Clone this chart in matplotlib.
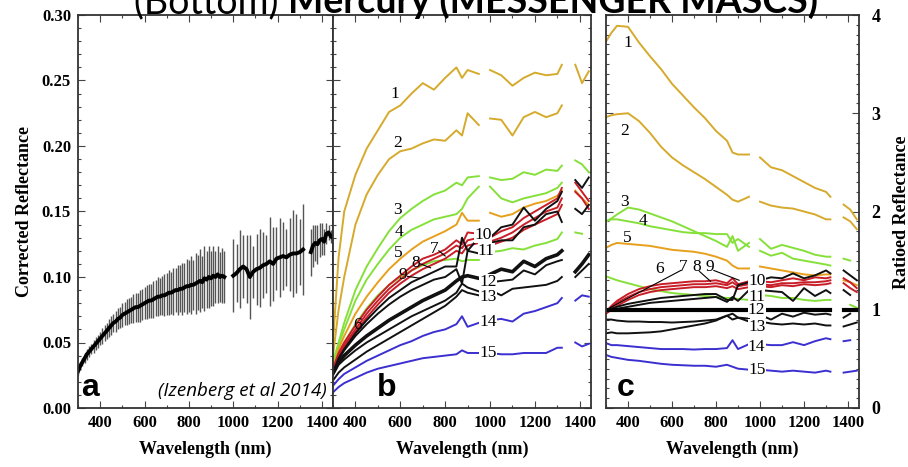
import numpy as np
import matplotlib
matplotlib.use('Agg')
import matplotlib.pyplot as plt
from matplotlib.ticker import MultipleLocator, FormatStrFormatter

serif = 'Liberation Serif'
plt.rcParams['font.family'] = serif
plt.rcParams['font.weight'] = 'bold'
plt.rcParams['axes.labelweight'] = 'bold'

# ---- panel a: mean corrected reflectance with error bars (Izenberg et al 2014)
a_wl_vis = list(range(300, 961, 10))
a_ref_vis = [.028, .032, .035, .038, .041, .043, .045, .047, .049, .051,
             .053, .055, .057, .059, .061, .063, .065, .066, .068, .069,
             .071, .072, .073, .074, .075, .076, .077, .077, .078, .079,
             .080, .081, .082, .082, .083, .084, .085, .085, .086, .086,
             .087, .088, .088, .089, .090, .090, .091, .091, .092, .093,
             .093, .094, .094, .095, .096, .097, .096, .099, .098, .100,
             .099, .101, .100, .102, .100, .101, .100]
a_err_vis = [.003, .003, .003, .004, .004, .004, .004, .005, .005, .005,
             .005, .006, .006, .006, .007, .007, .007, .008, .008, .008,
             .009, .009, .010, .010, .010, .011, .011, .011, .012, .012,
             .012, .013, .013, .013, .014, .014, .015, .014, .015, .016,
             .016, .017, .016, .018, .017, .019, .018, .020, .019, .021,
             .020, .022, .019, .023, .021, .024, .020, .025, .022, .024,
             .021, .023, .020, .022, .019, .021, .020]
a_wl_nir = list(range(1000, 1316, 15))
a_ref_nir = [.101, .103, .106, .108, .106, .100, .104, .106, .107, .109, .110,
             .112, .110, .114, .115, .116, .115, .117, .118, .118, .119, .121]
a_err_nir = [.028, .022, .030, .024, .026, .032, .020, .027, .030, .025, .022,
             .034, .028, .024, .030, .026, .022, .028, .033, .030, .025, .035]
a_wl_tail = list(range(1350, 1451, 10))
a_ref_tail = [.119, .124, .126, .125, .128, .129, .127, .133, .134, .131, .130]
a_err_tail = [.018, .016, .014, .015, .013, .012, .010, .008, .006, .005, .004]

# ---- panels b and c: 16 spectra on a common wavelength grid (VIS / NIR / tail)
wl_vis = [300, 325, 350, 400, 450, 500, 550, 600, 650, 700, 750, 800, 850, 875, 900, 950]
wl_nir = [1000, 1050, 1100, 1150, 1200, 1250, 1300, 1320]
wl_tail = [1380, 1410, 1440]
nan = np.nan

spec_names = ['1', '2', '3', '4', '5', '6g', '7', '8', '9', '10', '11', '12', '13', '13b', '14', '15']
spec_colors = ['gold', 'gold', 'green', 'green', 'orange', 'green', 'red', 'red', 'red',
               'black', 'black', 'black', 'black', 'black', 'blue', 'blue']

# corrected reflectance (panel b)
b_vis = [
    [.050, .115, .150, .178, .198, .212, .226, .231, .240, .248, .243, .252, .260, .252, .258, .255],
    [.040, .075, .100, .140, .163, .178, .190, .196, .198, .202, .205, .204, .212, .208, .225, .216],
    [.035, .050, .065, .090, .108, .122, .135, .145, .152, .158, .163, .166, .172, .170, .176, .177],
    [.035, .048, .060, .082, .098, .110, .121, .130, .136, .140, .144, .146, .148, .152, .160, .169],
    [.030, .045, .055, .072, .085, .096, .106, .114, .121, .127, .131, .135, .140, .149, .143, .143],
    [.030, .042, .050, .064, .076, .086, .094, .100, .105, .109, .112, .113, .114, .112, .113, .113],
    [.030, .042, .050, .063, .075, .085, .094, .101, .108, .114, .117, .121, .128, .125, .134, .133],
    [.028, .040, .048, .060, .072, .082, .091, .098, .105, .110, .114, .118, .124, .122, .128, .130],
    [.027, .038, .046, .058, .069, .079, .088, .095, .101, .106, .110, .114, .120, .118, .124, .126],
    [.027, .038, .045, .057, .067, .076, .084, .090, .096, .100, .104, .108, .108, .130, .120, .130],
    [.027, .037, .044, .055, .064, .072, .079, .085, .090, .094, .098, .100, .106, .095, .120, .118],
    [.027, .035, .040, .048, .055, .061, .067, .072, .077, .082, .086, .090, .097, .100, .101, .099],
    [.025, .033, .037, .044, .050, .055, .060, .065, .070, .074, .078, .082, .088, .095, .092, .089],
    [.021, .027, .031, .037, .043, .048, .053, .058, .063, .068, .073, .078, .085, .090, .088, .086],
    [.017, .022, .026, .031, .036, .040, .044, .048, .051, .055, .058, .060, .064, .070, .062, .065],
    [.012, .016, .019, .023, .027, .030, .032, .034, .036, .038, .039, .040, .041, .044, .042, .042],
]
b_nir = [
    [.258, .254, .246, .252, .256, .254, .255, .262],
    [.221, .220, .208, .222, .226, .222, .225, .231],
    [.176, .174, .175, .180, .178, .182, .181, .185],
    [.169, .160, .157, .160, .162, .164, .168, .172],
    [.149, .146, .148, .153, .156, .158, .162, .166],
    [.119, .120, .122, .121, .124, .126, .129, .134],
    [.130, .135, .138, .145, .150, .155, .160, .168],
    [.127, .130, .134, .140, .145, .150, .153, .160],
    [.124, .127, .130, .136, .140, .144, .148, .155],
    [.130, .138, .140, .153, .143, .152, .158, .165],
    [.126, .128, .128, .138, .140, .148, .150, .142],
    [.102, .106, .104, .112, .108, .114, .117, .120],
    [.090, .086, .091, .092, .093, .094, .097, .100],
    [.096, .097, .098, .105, .102, .109, .112, .113],
    [.067, .068, .066, .072, .074, .077, .080, .084],
    [.042, .041, .041, .042, .042, .042, .046, .046],
]
b_tail = [
    [.262, .248, .257],
    [nan, nan, nan],
    [.189, .186, .180],
    [nan, nan, nan],
    [.166, .160, .155],
    [.134, .133, nan],
    [.172, .165, .158],
    [.165, .160, .152],
    [nan, nan, nan],
    [.174, .168, .176],
    [.152, .148, .155],
    [.104, .110, .117],
    [nan, nan, nan],
    [.100, .105, .110],
    [.082, .086, .085],
    [.050, .047, .049],
]

# ratioed reflectance (panel c)
c_vis = [
    [3.73, 3.82, 3.89, 3.88, 3.72, 3.58, 3.45, 3.30, 3.18, 3.06, 2.95, 2.82, 2.72, 2.60, 2.58, 2.58],
    [2.96, 2.98, 2.99, 3.00, 2.92, 2.80, 2.66, 2.55, 2.47, 2.40, 2.33, 2.25, 2.17, 2.12, 2.10, 2.15],
    [1.90, 1.93, 1.97, 2.04, 2.02, 1.98, 1.94, 1.90, 1.85, 1.80, 1.75, 1.70, 1.64, 1.75, 1.60, 1.68],
    [1.90, 1.92, 1.92, 1.90, 1.88, 1.85, 1.83, 1.81, 1.79, 1.78, 1.78, 1.77, 1.77, 1.68, 1.72, 1.64],
    [1.63, 1.66, 1.68, 1.67, 1.66, 1.65, 1.63, 1.61, 1.60, 1.59, 1.57, 1.54, 1.50, 1.45, 1.42, 1.42],
    [1.34, 1.32, 1.30, 1.27, 1.24, 1.21, 1.19, 1.17, 1.16, 1.15, 1.14, 1.13, 1.12, 1.12, 1.11, 1.10],
    [0.98, 1.04, 1.09, 1.16, 1.21, 1.24, 1.26, 1.27, 1.28, 1.29, 1.29, 1.30, 1.27, 1.32, 1.26, 1.29],
    [0.97, 1.02, 1.07, 1.13, 1.18, 1.21, 1.23, 1.24, 1.25, 1.26, 1.26, 1.27, 1.25, 1.28, 1.24, 1.26],
    [0.96, 1.00, 1.04, 1.10, 1.15, 1.18, 1.20, 1.21, 1.22, 1.23, 1.23, 1.24, 1.22, 1.24, 1.21, 1.23],
    [0.99, 1.01, 1.03, 1.06, 1.08, 1.10, 1.12, 1.13, 1.14, 1.15, 1.16, 1.16, 1.10, 1.10, 1.25, 1.28],
    [0.99, 1.00, 1.01, 1.03, 1.05, 1.07, 1.08, 1.09, 1.10, 1.11, 1.12, 1.13, 1.08, 1.13, 1.09, 1.20],
    [1.00, 1.00, 1.00, 1.00, 1.00, 1.00, 1.00, 1.00, 1.00, 1.00, 1.00, 1.00, 1.00, 1.00, 1.00, 1.00],
    [0.90, 0.90, 0.89, 0.88, 0.88, 0.875, 0.875, 0.87, 0.875, 0.88, 0.89, 0.90, 0.94, 0.90, 0.92, 0.88],
    [0.76, 0.77, 0.76, 0.76, 0.765, 0.77, 0.78, 0.80, 0.82, 0.84, 0.86, 0.89, 0.94, 0.96, 0.92, 0.91],
    [0.66, 0.64, 0.64, 0.63, 0.62, 0.61, 0.60, 0.60, 0.60, 0.595, 0.60, 0.60, 0.61, 0.69, 0.60, 0.65],
    [0.54, 0.52, 0.51, 0.49, 0.48, 0.465, 0.45, 0.44, 0.435, 0.43, 0.43, 0.42, 0.44, 0.42, 0.40, 0.39],
]
c_nir = [
    [2.55, 2.45, 2.42, 2.36, 2.30, 2.24, 2.20, 2.15],
    [2.10, 2.06, 2.04, 2.03, 2.00, 1.97, 1.92, 1.92],
    [1.72, 1.62, 1.66, 1.63, 1.60, 1.56, 1.54, 1.54],
    [1.60, 1.55, 1.58, 1.52, 1.50, 1.48, 1.46, 1.45],
    [1.44, 1.42, 1.40, 1.38, 1.36, 1.35, 1.36, 1.36],
    [1.15, 1.14, 1.12, 1.12, 1.10, 1.09, 1.10, 1.10],
    [1.29, 1.28, 1.30, 1.32, 1.30, 1.33, 1.32, 1.33],
    [1.26, 1.25, 1.27, 1.27, 1.28, 1.28, 1.29, 1.30],
    [1.24, 1.23, 1.25, 1.24, 1.26, 1.25, 1.26, 1.27],
    [1.30, 1.33, 1.32, 1.37, 1.32, 1.35, 1.40, 1.37],
    [1.20, 1.19, 1.18, 1.09, 1.22, 1.14, 1.20, 1.17],
    [1.00, 1.00, 1.00, 1.00, 1.00, 1.00, 1.00, 1.00],
    [0.88, 0.86, 0.85, 0.86, 0.85, 0.86, 0.84, 0.84],
    [0.95, 0.90, 0.96, 0.93, 0.97, 0.95, 0.96, 0.95],
    [0.65, 0.64, 0.64, 0.67, 0.64, 0.68, 0.71, 0.70],
    [0.39, 0.38, 0.37, 0.38, 0.37, 0.36, 0.38, 0.37],
]
c_tail = [
    [2.07, 2.02, 1.92],
    [1.94, 1.90, 1.82],
    [1.52, 1.50, nan],
    [nan, nan, nan],
    [1.30, 1.28, 1.25],
    [nan, 1.05, 1.02],
    [1.32, 1.28, 1.22],
    [1.27, 1.22, 1.18],
    [nan, nan, nan],
    [1.40, 1.35, 1.30],
    [1.20, 1.15, nan],
    [1.00, 1.00, 1.00],
    [0.83, 0.85, 0.87],
    [0.92, 0.96, nan],
    [0.68, 0.69, nan],
    [0.36, 0.37, 0.38],
]

# curve numbers written on panels b and c
num_labels = ['1', '2', '3', '4', '5', '6', '7', '8', '9', '10', '11', '12', '13', '14', '15']
b_label_x = [575, 588, 588, 592, 592, 408, 750, 668, 610, 970, 983, 992, 992, 992, 992]
b_label_y = [.240, .202, .151, .134, .118, .063, .121, .111, .1015, .132, .120, .096, .085, .066, .042]
c_label_x = [400, 386, 386, 468, 395, 545, 650, 713, 772, 985, 985, 985, 985, 985, 985]
c_label_y = [3.72, 2.82, 2.10, 1.90, 1.73, 1.41, 1.44, 1.44, 1.44, 1.29, 1.13, 0.995, 0.82, 0.62, 0.39]
# leader lines from labels 7, 8, 9 to their curves
b_leaders = [((772, .120), (800, .116)), ((690, .110), (735, .107)), ((632, .1005), (690, .099))]
c_leaders = [((640, 1.40), (318, 1.02)), ((725, 1.39), (775, 1.29)), ((790, 1.40), (905, 1.30))]

palette = {'gold': '#d6aa2c', 'orange': '#e6a01c', 'green': '#86e03a',
           'red': '#c81e28', 'black': '#111111', 'blue': '#3b2fd0'}


def join(vis, nir, tail):
    return np.array(list(vis) + [nan] + list(nir) + [nan] + list(tail), dtype=float)


def style_axes(ax, ymajor, yminor):
    ax.set_xlim(300, 1450)
    ax.xaxis.set_major_locator(MultipleLocator(200))
    ax.xaxis.set_minor_locator(MultipleLocator(100))
    ax.yaxis.set_major_locator(MultipleLocator(ymajor))
    ax.yaxis.set_minor_locator(MultipleLocator(yminor))
    ax.tick_params(which='both', direction='in', top=True, right=True, color='#444', width=0.8,
                   labelsize=12)
    ax.tick_params(which='major', length=5, pad=5)
    ax.tick_params(which='minor', length=2.5)
    for s in ax.spines.values():
        s.set_color('#333')
        s.set_linewidth(1.3)
    ax.set_xlabel('Wavelength (nm)', fontsize=13, fontweight='bold', labelpad=7)


def numbers(ax, xs, ys, leaders):
    for lab, x, y in zip(num_labels, xs, ys):
        box = dict(facecolor='white', edgecolor='none', pad=0.1) if int(lab) >= 10 else None
        ax.text(x, y, lab, fontweight='normal', fontsize=12.5, ha='center', va='center',
                bbox=box, zorder=5)
    for p0, p1 in leaders:
        ax.plot([p0[0], p1[0]], [p0[1], p1[1]], color='black', lw=0.8, zorder=4)


fig = plt.figure(figsize=(9.08, 4.67), dpi=100)
ax_a = fig.add_axes([78 / 908, 59 / 467, 255 / 908, 393 / 467])
ax_b = fig.add_axes([333 / 908, 59 / 467, 258 / 908, 393 / 467])
ax_c = fig.add_axes([606 / 908, 59 / 467, 253 / 908, 393 / 467])

# panel a
for wl, r, e in [(a_wl_vis, a_ref_vis, a_err_vis), (a_wl_nir, a_ref_nir, a_err_nir),
                 (a_wl_tail, a_ref_tail, a_err_tail)]:
    ax_a.errorbar(wl, r, yerr=e, fmt='none', ecolor='#555555', elinewidth=1.0, capsize=0)
    ax_a.plot(wl, r, color='black', lw=2.8)
ax_a.set_ylim(0, 0.30)
style_axes(ax_a, 0.05, 0.01)
ax_a.yaxis.set_major_formatter(FormatStrFormatter('%.2f'))
ax_a.set_ylabel('Corrected Reflectance', fontsize=13, fontweight='bold', labelpad=6)
ax_a.text(0.012, 0.012, 'a', transform=ax_a.transAxes, fontfamily='Liberation Sans',
          fontweight='bold', fontsize=23, va='bottom')
ax_a.text(0.975, 0.02, '(Izenberg et al 2014)', transform=ax_a.transAxes, fontfamily='Open Sans',
          fontweight='normal', style='italic', fontsize=13.5, ha='right', va='bottom')

# panel b
wl_all = join(wl_vis, wl_nir, wl_tail)
for i, name in enumerate(spec_names):
    lw = 2.6 if name == '12' else 1.4
    ax_b.plot(wl_all, join(b_vis[i], b_nir[i], b_tail[i]), color=palette[spec_colors[i]], lw=lw)
ax_b.set_ylim(0, 0.30)
style_axes(ax_b, 0.05, 0.01)
ax_b.tick_params(labelleft=False)
numbers(ax_b, b_label_x, b_label_y, b_leaders)
ax_b.text(0.17, 0.012, 'b', transform=ax_b.transAxes, fontfamily='Liberation Sans',
          fontweight='bold', fontsize=23, va='bottom')

# panel c
for i, name in enumerate(spec_names):
    if name == '12':
        ax_c.plot(wl_vis + wl_nir, c_vis[i] + c_nir[i], color='black', lw=3.0)
        ax_c.plot(wl_tail, c_tail[i], color='black', lw=3.0)
    else:
        ax_c.plot(wl_all, join(c_vis[i], c_nir[i], c_tail[i]), color=palette[spec_colors[i]], lw=1.4)
ax_c.set_ylim(0, 4)
style_axes(ax_c, 1, 0.1)
ax_c.tick_params(labelleft=False, labelright=True)
ax_c.tick_params(axis='y', which='major', pad=9, labelsize=13)
numbers(ax_c, c_label_x, c_label_y, c_leaders)
ax_c.text(0.043, 0.012, 'c', transform=ax_c.transAxes, fontfamily='Liberation Sans',
          fontweight='bold', fontsize=23, va='bottom')
fig.text(901 / 908, 1 - 212 / 467, 'Ratioed Reflectance', rotation=90, ha='center', va='center',
         fontsize=13, fontweight='bold')

# title, cut off at the top edge as in the original slide
fig.text(288 / 908, 1 - 13 / 467, '(Bottom) ', ha='right', va='baseline',
         fontfamily='Lato', fontweight='normal', fontsize=27)
fig.text(288 / 908, 1 - 13 / 467, 'Mercury (MESSENGER MASCS)', ha='left', va='baseline',
         fontfamily='Lato', fontweight='bold', fontsize=27)

fig.savefig('out.png', dpi=100)
